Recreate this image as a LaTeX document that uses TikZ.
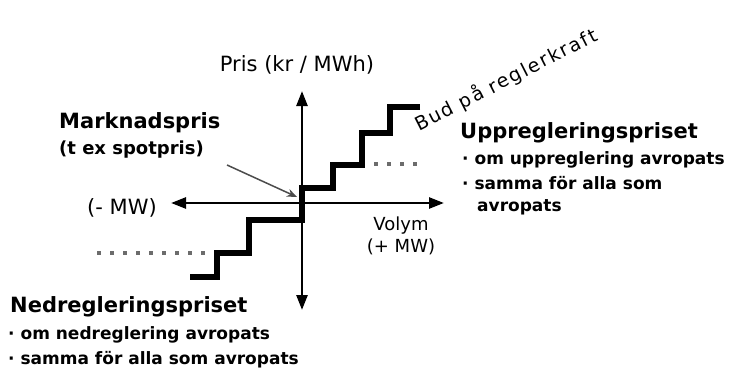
\documentclass[tikz,border=0pt]{standalone}
\usepackage{fontspec}
\setmainfont{DejaVu Sans}
\usetikzlibrary{arrows.meta}
\begin{document}
\begin{tikzpicture}[x=1pt,y=-1pt,
  axis/.style={line width=2.6pt,{Triangle[length=15pt,width=11pt]}-{Triangle[length=15pt,width=11pt]}},
  stair/.style={line width=6.5pt,line join=miter},
  dotline/.style={line width=4pt,gray!85!black,dash pattern=on 4pt off 9pt},
  pointer/.style={line width=1.5pt,gray!60!black,-{Stealth[length=10pt,width=8pt]}},
  head/.style={font=\fontsize{21}{25}\selectfont\bfseries,inner sep=0pt,anchor=west},
  sub/.style={font=\fontsize{17}{20}\selectfont\bfseries,inner sep=0pt,anchor=west},
  lab/.style={font=\fontsize{21}{25}\selectfont,inner sep=0pt},
  smalllab/.style={font=\fontsize{18}{22}\selectfont,inner sep=0pt,align=center}
]
\useasboundingbox (0,0) rectangle (736,372);
% axes
\coordinate (O) at (302,203);
\coordinate (ytop) at (302,91);
\coordinate (ybot) at (302,310);
\coordinate (xl) at (171,203);
\coordinate (xr) at (444,203);
\draw[axis] (ybot) -- (ytop);
\draw[axis] (xl) -- (xr);
% staircase
\coordinate (s0) at (420,107);
\coordinate (s1) at (249,220);
\coordinate (s2) at (190,277);
\draw[stair] (s0) -- (390,107) -- (390,133) -- (362,133) -- (362,165) -- (333,165) -- (333,188) -- (302,188) -- (302,220) -- (s1) -- (249,253) -- (217,253) -- (217,277) -- (s2);
% dotted levels
\coordinate (d1a) at (374,164);
\coordinate (d1b) at (420,164);
\coordinate (d2a) at (97,253);
\coordinate (d2b) at (212,253);
\draw[dotline] (d1a) -- (d1b);
\draw[dotline] (d2a) -- (d2b);
% labels
\node[lab] (pris) at (297,65) {Pris (kr / MWh)};
\node[lab] (minus) at (122,208) {(- MW)};
\node[smalllab] (volym) at (401,236) {Volym\\(+ MW)};
\node[font=\fontsize{19}{22}\selectfont\addfontfeatures{LetterSpace=10},inner sep=0pt,rotate=27] (bud) at (506,80) {Bud på reglerkraft};
\node[head] (mp) at (59,123) {Marknadspris};
\node[font=\fontsize{18}{22}\selectfont\bfseries,inner sep=0pt,anchor=west] (spot) at (59,150) {(t ex spotpris)};
\coordinate (pstart) at (227,165);
\coordinate (pend) at (297,197);
\draw[pointer] (pstart) -- (pend);
\node[head] (upp) at (460,133) {Uppregleringspriset};
\node[sub] (u1) at (462,160) {· om uppreglering avropats};
\node[sub] (u2) at (462,183) {· samma för alla som};
\node[sub] (u3) at (477,207) {avropats};
\node[head] (ned) at (10,307) {Nedregleringspriset};
\node[sub] (n1) at (8,335) {· om nedreglering avropats};
\node[sub] (n2) at (8,360) {· samma för alla som avropats};
\end{tikzpicture}
\end{document}
